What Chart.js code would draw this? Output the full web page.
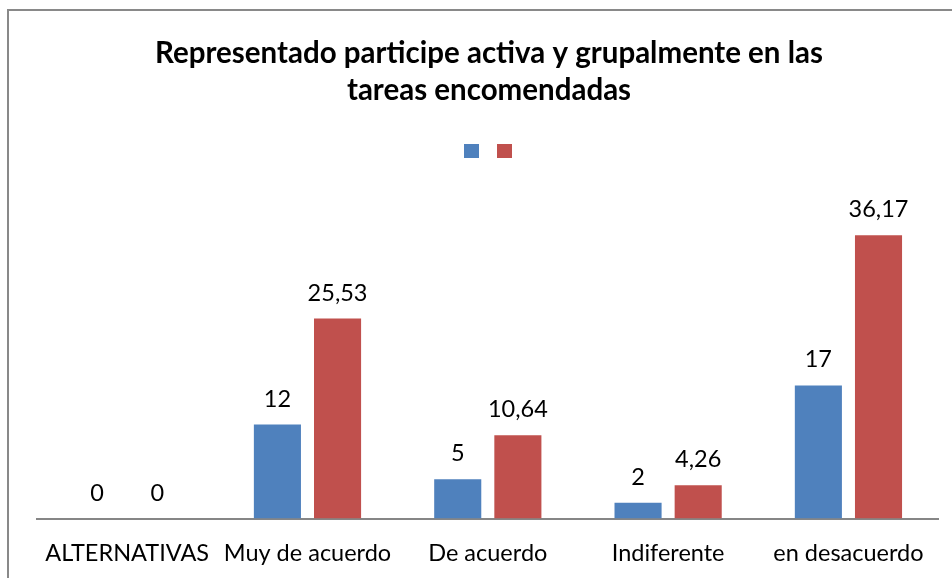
<!DOCTYPE html>
<html>
<head>
<meta charset="utf-8">
<script src="https://cdn.jsdelivr.net/npm/chart.js@4"></script>
<style>
html,body{margin:0;padding:0;background:#fff;}
#wrap{position:relative;width:952px;height:578px;}
</style>
</head>
<body>
<div id="wrap"><canvas id="c" width="952" height="578"></canvas></div>
<script>
const categories = ['ALTERNATIVAS', 'Muy de acuerdo', 'De acuerdo', 'Indiferente', 'en desacuerdo'];
const seriesCount = [0, 12, 5, 2, 17];
const seriesPercent = [0, 25.53, 10.64, 4.26, 36.17];
const valueLabelsCount = ['0', '12', '5', '2', '17'];
const valueLabelsPercent = ['0', '25,53', '10,64', '4,26', '36,17'];
const titleLines = ['Representado participe activa y grupalmente en las', 'tareas encomendadas'];

const FONT = 'Lato';

const frame = {
  id: 'frame',
  beforeDraw(chart) {
    const ctx = chart.ctx;
    ctx.save();
    ctx.fillStyle = '#fff';
    ctx.fillRect(0, 0, chart.width, chart.height);
    ctx.strokeStyle = '#898989';
    ctx.lineWidth = 2;
    ctx.strokeRect(8, 10, 2000, 2000);
    ctx.restore();
  }
};

const valueLabels = {
  id: 'valueLabels',
  afterDatasetsDraw(chart) {
    const ctx = chart.ctx;
    const texts = [valueLabelsCount, valueLabelsPercent];
    ctx.save();
    ctx.font = '23.5px ' + FONT;
    ctx.fillStyle = '#000';
    ctx.textAlign = 'center';
    ctx.textBaseline = 'alphabetic';
    chart.data.datasets.forEach((ds, di) => {
      chart.getDatasetMeta(di).data.forEach((bar, i) => {
        ctx.fillText(texts[di][i], bar.x, bar.y - 18);
      });
    });
    ctx.restore();
  }
};

new Chart(document.getElementById('c'), {
  type: 'bar',
  data: {
    labels: categories,
    datasets: [
      { label: 'Serie 1', data: seriesCount, backgroundColor: '#4F81BD', borderWidth: 0, xAxisID: 'x', yAxisID: 'y' },
      { label: 'Serie 2', data: seriesPercent, backgroundColor: '#C0504D', borderWidth: 0, xAxisID: 'x', yAxisID: 'y' }
    ]
  },
  options: {
    responsive: false,
    animation: false,
    devicePixelRatio: 1,
    layout: { padding: { left: 26, right: 0, top: 0, bottom: 0 } },
    datasets: { bar: { categoryPercentage: 0.667, barPercentage: 0.783 } },
    plugins: {
      title: {
        display: true,
        text: titleLines,
        color: '#000',
        font: { family: FONT, size: 29.5, weight: 'bold', lineHeight: 1.275 },
        padding: { top: 34.5, bottom: 18.3 }
      },
      legend: {
        display: true,
        labels: {
          boxWidth: 15,
          boxHeight: 14,
          padding: 16,
          font: { size: 4 },
          generateLabels(chart) {
            return chart.data.datasets.map((ds, i) => ({
              text: '', fillStyle: ds.backgroundColor, strokeStyle: ds.backgroundColor,
              lineWidth: 0, hidden: false, datasetIndex: i
            }));
          }
        }
      },
      tooltip: { enabled: false }
    },
    scales: {
      x: {
        type: 'category',
        position: 'bottom',
        grid: { display: false, drawTicks: false },
        border: { display: true, color: '#868686', width: 2 },
        ticks: { color: '#000', font: { family: FONT, size: 23.5 }, padding: 21, maxRotation: 0, autoSkip: false },
        afterFit(s) { s.height = 59.5; }
      },
      xTop: {
        type: 'category',
        position: 'top',
        display: true,
        grid: { display: false, drawTicks: false },
        border: { display: false },
        ticks: { display: false },
        afterFit(s) { s.height = 37.3; }
      },
      y: {
        type: 'linear',
        position: 'left',
        min: 0, max: 40,
        display: true,
        grid: { display: false, drawTicks: false },
        border: { display: false },
        ticks: { display: false },
        afterFit(s) { s.width = 11; }
      },
      yRight: {
        type: 'linear',
        position: 'right',
        display: true,
        grid: { display: false, drawTicks: false },
        border: { display: false },
        ticks: { display: false },
        afterFit(s) { s.width = 13.4; }
      }
    }
  },
  plugins: [frame, valueLabels]
});
</script>
</body>
</html>
